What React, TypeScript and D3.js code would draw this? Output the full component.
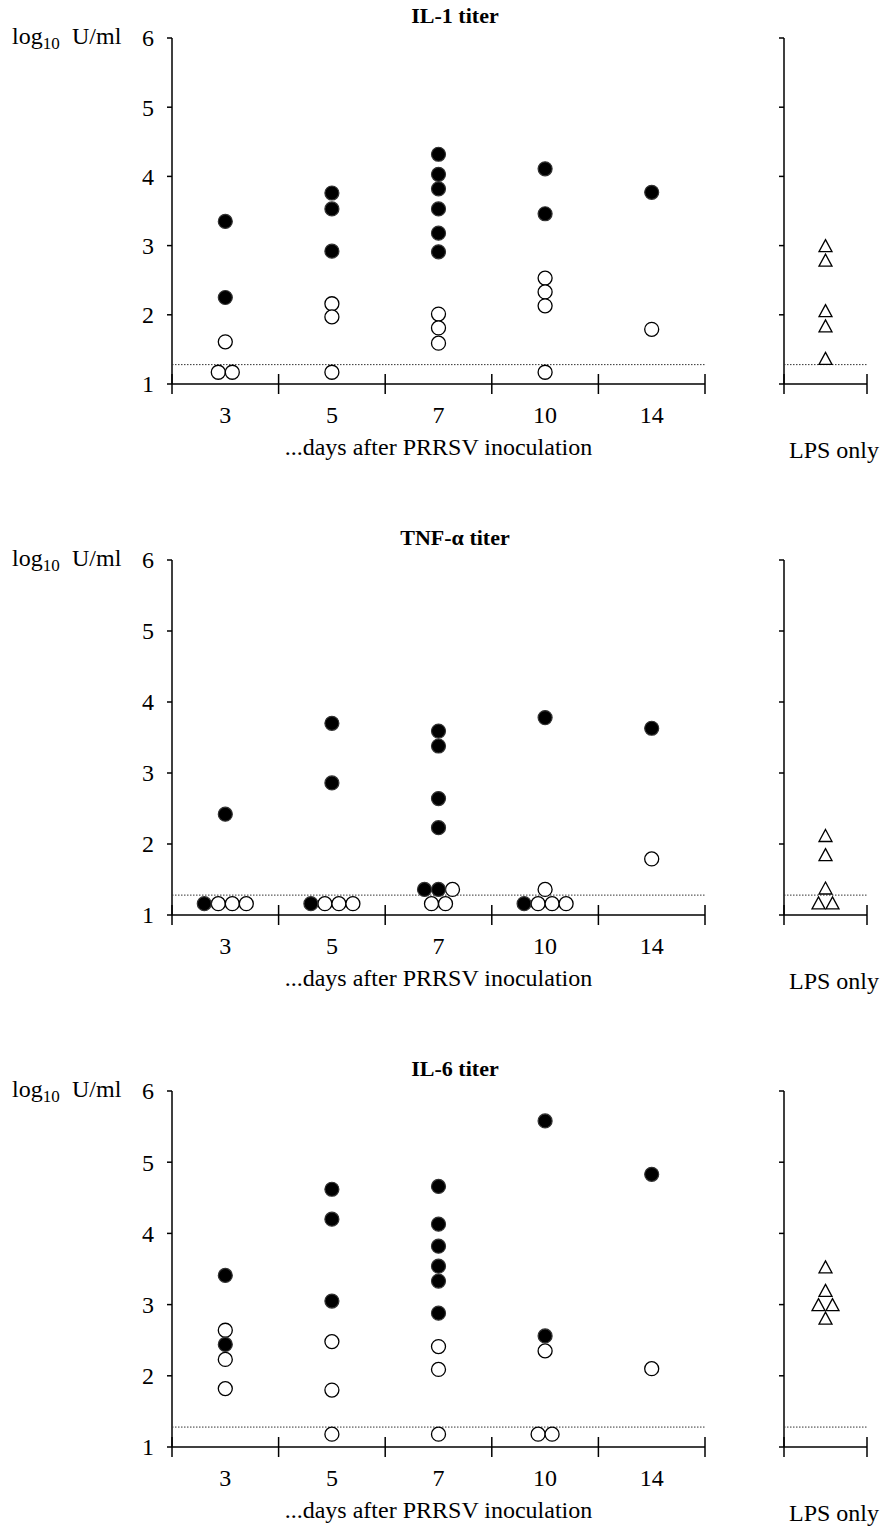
import * as d3 from "d3";

// categories
const DAYS = ["3", "5", "7", "10", "14"];
const LPS = ["LPS only"];
const Y_TICKS = [1, 2, 3, 4, 5, 6];
const TITLES = ["IL-1 titer", "TNF-\u03b1 titer", "IL-6 titer"];
const DETECTION_LIMIT = 1.28;

// [day, log10 titer, side-by-side slot]
type Pt = [string, number, number];

const IL1_FILLED: Pt[] = [
  ["3", 3.35, 0], ["3", 2.25, 0],
  ["5", 3.76, 0], ["5", 3.53, 0], ["5", 2.92, 0],
  ["7", 4.32, 0], ["7", 4.03, 0], ["7", 3.82, 0], ["7", 3.53, 0], ["7", 3.18, 0], ["7", 2.91, 0],
  ["10", 4.11, 0], ["10", 3.46, 0],
  ["14", 3.77, 0],
];
const IL1_OPEN: Pt[] = [
  ["3", 1.61, 0], ["3", 1.17, -0.5], ["3", 1.17, 0.5],
  ["5", 2.16, 0], ["5", 1.97, 0], ["5", 1.17, 0],
  ["7", 2.01, 0], ["7", 1.81, 0], ["7", 1.59, 0],
  ["10", 2.53, 0], ["10", 2.33, 0], ["10", 2.13, 0], ["10", 1.17, 0],
  ["14", 1.79, 0],
];
const IL1_LPS: Pt[] = [
  ["LPS only", 3.0, 0], ["LPS only", 2.79, 0], ["LPS only", 2.06, 0],
  ["LPS only", 1.84, 0], ["LPS only", 1.37, 0],
];

const TNF_FILLED: Pt[] = [
  ["3", 2.42, 0], ["3", 1.16, -1.5],
  ["5", 3.7, 0], ["5", 2.86, 0], ["5", 1.16, -1.5],
  ["7", 3.59, 0], ["7", 3.38, 0], ["7", 2.64, 0], ["7", 2.23, 0], ["7", 1.36, -1], ["7", 1.36, 0],
  ["10", 3.78, 0], ["10", 1.16, -1.5],
  ["14", 3.63, 0],
];
const TNF_OPEN: Pt[] = [
  ["3", 1.16, -0.5], ["3", 1.16, 0.5], ["3", 1.16, 1.5],
  ["5", 1.16, -0.5], ["5", 1.16, 0.5], ["5", 1.16, 1.5],
  ["7", 1.36, 1], ["7", 1.16, -0.5], ["7", 1.16, 0.5],
  ["10", 1.36, 0], ["10", 1.16, -0.5], ["10", 1.16, 0.5], ["10", 1.16, 1.5],
  ["14", 1.79, 0],
];
const TNF_LPS: Pt[] = [
  ["LPS only", 2.12, 0], ["LPS only", 1.85, 0], ["LPS only", 1.38, 0],
  ["LPS only", 1.17, -0.5], ["LPS only", 1.17, 0.5],
];

const IL6_FILLED: Pt[] = [
  ["3", 3.41, 0], ["3", 2.44, 0],
  ["5", 4.62, 0], ["5", 4.2, 0], ["5", 3.05, 0],
  ["7", 4.66, 0], ["7", 4.13, 0], ["7", 3.82, 0], ["7", 3.54, 0], ["7", 3.33, 0], ["7", 2.88, 0],
  ["10", 5.58, 0], ["10", 2.56, 0],
  ["14", 4.83, 0],
];
const IL6_OPEN: Pt[] = [
  ["3", 2.64, 0], ["3", 2.23, 0], ["3", 1.82, 0],
  ["5", 2.48, 0], ["5", 1.8, 0], ["5", 1.18, 0],
  ["7", 2.41, 0], ["7", 2.09, 0], ["7", 1.18, 0],
  ["10", 2.35, 0], ["10", 1.18, -0.5], ["10", 1.18, 0.5],
  ["14", 2.1, 0],
];
const IL6_LPS: Pt[] = [
  ["LPS only", 3.53, 0], ["LPS only", 3.2, 0], ["LPS only", 3.0, -0.5],
  ["LPS only", 3.0, 0.5], ["LPS only", 2.81, 0],
];

// layout
const W = 886;
const H = 1530;
const MAIN_X: [number, number] = [172, 705];
const LPS_X: [number, number] = [784, 867];
const PANEL_Y: [number, number][] = [[384, 38], [915, 560], [1447, 1091]];
const R = 7;
const FONT = "'Liberation Serif', 'Times New Roman', serif";

const triPath = (cx: number, cy: number) => {
  const w = 13, h = 12;
  return `M${cx},${cy - h / 2}L${cx + w / 2},${cy + h / 2}L${cx - w / 2},${cy + h / 2}Z`;
};

function Panel({ idx, filled, open, lps }: { idx: number; filled: Pt[]; open: Pt[]; lps: Pt[] }) {
  const [bottom, top] = PANEL_Y[idx];
  const y = d3.scaleLinear().domain([1, 6]).range([bottom, top]);
  const x = d3.scaleBand().domain(DAYS).range(MAIN_X);
  const xl = d3.scaleBand().domain(LPS).range(LPS_X);
  const bw = x.bandwidth();
  const cx = (d: string, s: number) => (x(d) as number) + bw / 2 + s * 2 * R;
  const lx = (d: string, s: number) => (xl(d) as number) + xl.bandwidth() / 2 + s * 14;
  const bounds = [MAIN_X[0], ...DAYS.map((d) => (x(d) as number) + bw)];
  const stroke = "#000";

  return (
    <g>
      <text x={455} y={top - 15} textAnchor="middle" fontWeight="bold" fontSize={22} fontFamily={FONT}>
        {TITLES[idx]}
      </text>
      <text x={12} y={top + 6} fontSize={24} fontFamily={FONT}>
        log<tspan fontSize={17} dy={5}>10</tspan>
        <tspan x={72} dy={-5}>U/ml</tspan>
      </text>

      {/* main y axis */}
      <line x1={MAIN_X[0]} x2={MAIN_X[0]} y1={top} y2={bottom} stroke={stroke} strokeWidth={1.5} />
      {Y_TICKS.map((t) => (
        <g key={t}>
          <line x1={MAIN_X[0] - 5} x2={MAIN_X[0]} y1={y(t)} y2={y(t)} stroke={stroke} strokeWidth={1.5} />
          <text x={154} y={y(t)} dy="0.35em" textAnchor="end" fontSize={24} fontFamily={FONT}>{t}</text>
        </g>
      ))}

      {/* detection limit */}
      <line x1={MAIN_X[0]} x2={MAIN_X[1]} y1={y(DETECTION_LIMIT)} y2={y(DETECTION_LIMIT)}
        stroke="#333" strokeWidth={1} strokeDasharray="1.5,1.5" />

      {/* main x axis */}
      <line x1={MAIN_X[0]} x2={MAIN_X[1]} y1={bottom} y2={bottom} stroke={stroke} strokeWidth={1.5} />
      {bounds.map((b) => (
        <line key={b} x1={b} x2={b} y1={bottom - 10} y2={bottom + 10} stroke={stroke} strokeWidth={1.5} />
      ))}
      {DAYS.map((d) => (
        <text key={d} x={cx(d, 0)} y={bottom + 39} textAnchor="middle" fontSize={24} fontFamily={FONT}>{d}</text>
      ))}
      <text x={(MAIN_X[0] + MAIN_X[1]) / 2} y={bottom + 71} textAnchor="middle" fontSize={24} fontFamily={FONT}>
        ...days after PRRSV inoculation
      </text>

      {/* LPS panel */}
      <line x1={LPS_X[0]} x2={LPS_X[0]} y1={top} y2={bottom} stroke={stroke} strokeWidth={1.5} />
      {Y_TICKS.map((t) => (
        <line key={t} x1={LPS_X[0] - 5} x2={LPS_X[0]} y1={y(t)} y2={y(t)} stroke={stroke} strokeWidth={1.5} />
      ))}
      <line x1={LPS_X[0]} x2={LPS_X[1]} y1={y(DETECTION_LIMIT)} y2={y(DETECTION_LIMIT)}
        stroke="#333" strokeWidth={1} strokeDasharray="1.5,1.5" />
      <line x1={LPS_X[0]} x2={LPS_X[1]} y1={bottom} y2={bottom} stroke={stroke} strokeWidth={1.5} />
      {LPS_X.map((b) => (
        <line key={b} x1={b} x2={b} y1={bottom - 10} y2={bottom + 10} stroke={stroke} strokeWidth={1.5} />
      ))}
      <text x={834} y={bottom + 74} textAnchor="middle" fontSize={24} fontFamily={FONT}>{LPS[0]}</text>

      {/* marks */}
      {open.map(([d, v, s], i) => (
        <circle key={"o" + i} cx={cx(d, s)} cy={y(v)} r={R} fill="#fff" stroke="#000" strokeWidth={1.3} />
      ))}
      {filled.map(([d, v, s], i) => (
        <circle key={"f" + i} cx={cx(d, s)} cy={y(v)} r={R} fill="#000" stroke="#333" strokeWidth={1.2} />
      ))}
      {lps.map(([d, v, s], i) => (
        <path key={"t" + i} d={triPath(lx(d, s), y(v))} fill="none" stroke="#000" strokeWidth={1.3} />
      ))}
    </g>
  );
}

export default function App() {
  return (
    <svg width={W} height={H} style={{ position: "absolute", left: 0, top: 0, background: "#fff" }}>
      <Panel idx={0} filled={IL1_FILLED} open={IL1_OPEN} lps={IL1_LPS} />
      <Panel idx={1} filled={TNF_FILLED} open={TNF_OPEN} lps={TNF_LPS} />
      <Panel idx={2} filled={IL6_FILLED} open={IL6_OPEN} lps={IL6_LPS} />
    </svg>
  );
}
